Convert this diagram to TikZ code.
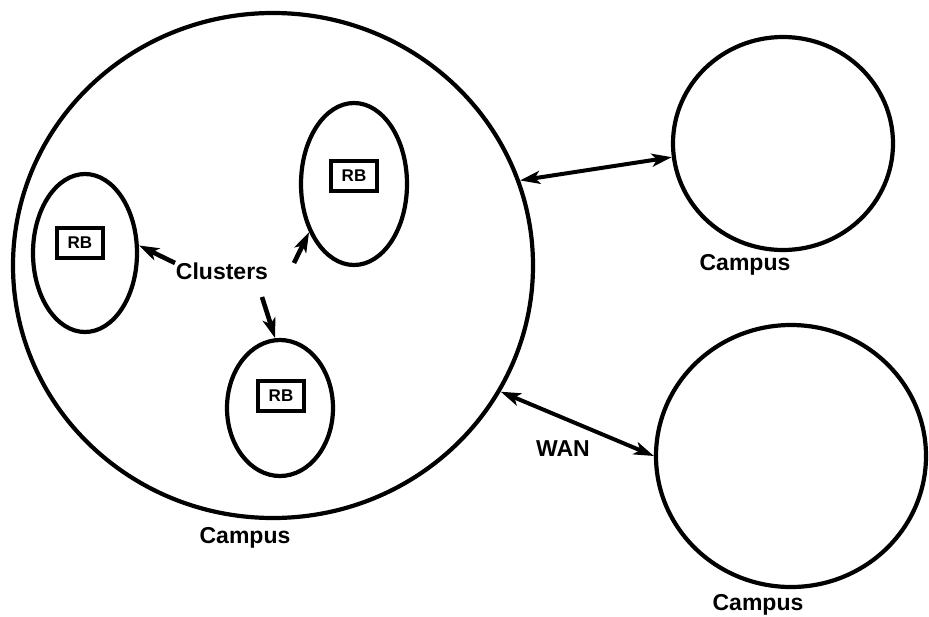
\documentclass[tikz,border=0pt]{standalone}
\usepackage{fontspec}
\setmainfont{Liberation Sans}
\usetikzlibrary{shapes.geometric,arrows.meta,calc}
\begin{document}
\begin{tikzpicture}[x=1pt,y=-1pt,
  blob/.style={draw=black,line width=4.2pt,ellipse,inner sep=0pt},
  rbbox/.style={draw=black,line width=3.4pt,rectangle,minimum width=46pt,minimum height=30pt,inner sep=0pt,font=\fontsize{17}{17}\selectfont\bfseries},
  lbl/.style={font=\fontsize{23}{25}\selectfont\bfseries,inner sep=0pt},
  link/.style={line width=4pt,{Stealth[length=20pt,width=13pt,inset=5pt]}-{Stealth[length=20pt,width=13pt,inset=5pt]}},
  ptr/.style={line width=4.6pt,-{Stealth[length=20pt,width=13pt,inset=5pt]}}]
\useasboundingbox (0,0) rectangle (929,616);
% campuses
\node[blob,minimum width=520pt,minimum height=505pt] (big) at (273,265.5) {};
\node[blob,minimum width=220pt,minimum height=213pt] (c1) at (783,143.5) {};
\node[blob,minimum width=270pt,minimum height=262pt] (c2) at (791,456) {};
% clusters
\node[blob,minimum width=104pt,minimum height=158pt] (sL) at (85,253) {};
\node[blob,minimum width=106pt,minimum height=162pt] (sU) at (354,184) {};
\node[blob,minimum width=106pt,minimum height=136pt] (sB) at (280,408) {};
% RB boxes
\node[rbbox] (rbL) at (80,243) {RB};
\node[rbbox] (rbU) at (354,176) {RB};
\node[rbbox] (rbB) at (281,396) {RB};
% labels
\node[lbl] (clusters) at (222,271) {Clusters};
\node[lbl] (campusA) at (245,538) {Campus};
\node[lbl] (campusB) at (745,265) {Campus};
\node[lbl] (campusC) at (758,605) {Campus};
\node[lbl] (wan) at (563,449) {WAN};
% WAN links
\draw[link] (big.19) -- (c1.187.8);
\draw[link] (big.331.9) -- (c2.180.4);
% cluster pointers
\draw[ptr] ($(clusters)+(-47,-8)$) -- (sL.8.6);
\draw[ptr] ($(clusters)+(72,-8)$) -- (sU.227.5);
\draw[ptr] ($(clusters)+(40,26)$) -- (sB.94.3);
\end{tikzpicture}
\end{document}
